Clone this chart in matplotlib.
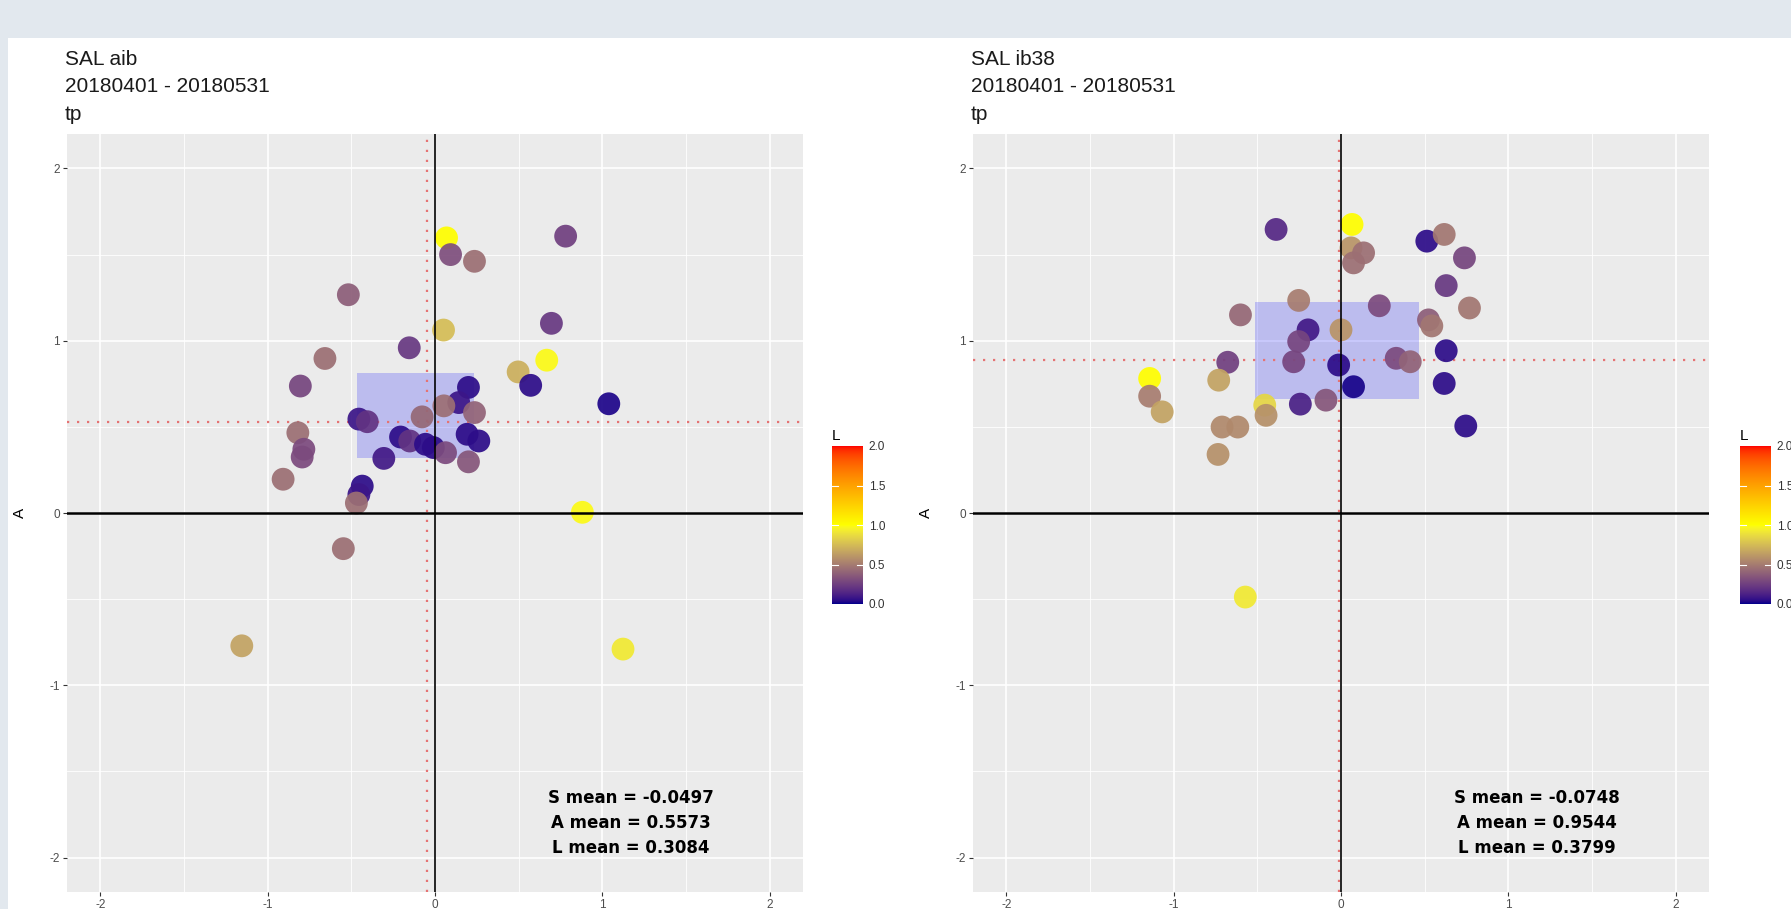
import numpy as np
import matplotlib
matplotlib.use("Agg")
import matplotlib.pyplot as plt
import matplotlib.colors as mcolors
from matplotlib.patches import Rectangle

plt.rcParams['font.family'] = ['Liberation Sans', 'DejaVu Sans']
plt.rcParams['axes.unicode_minus'] = False

# ---- data ----
# left panel: SAL aib
left_s = [0.069, 0.093, 0.236, 0.781, -0.518, 0.051, 0.696, -0.154, -0.658, 0.497,
          0.668, 0.572, 1.039, -0.805, 0.200, 0.142, 0.053, 0.236, -0.077, -0.455,
          -0.405, -0.820, -0.784, -0.794, -0.908, -0.206, -0.151, -0.057, -0.010, 0.063,
          0.192, 0.262, 0.200, -0.306, -0.435, -0.455, -0.470, -0.548, 0.881, -1.155, 1.124]
left_a = [1.597, 1.500, 1.461, 1.607, 1.267, 1.062, 1.101, 0.959, 0.897, 0.819,
          0.887, 0.741, 0.634, 0.737, 0.729, 0.641, 0.622, 0.583, 0.558, 0.545,
          0.530, 0.466, 0.370, 0.325, 0.196, 0.441, 0.418, 0.399, 0.380, 0.350,
          0.457, 0.418, 0.297, 0.317, 0.156, 0.107, 0.058, -0.207, 0.004, -0.771, -0.790]
left_l = [1.00, 0.32, 0.45, 0.25, 0.38, 0.75, 0.22, 0.22, 0.45, 0.70,
          0.98, 0.05, 0.03, 0.28, 0.05, 0.08, 0.45, 0.40, 0.42, 0.08,
          0.20, 0.45, 0.30, 0.30, 0.45, 0.05, 0.20, 0.05, 0.05, 0.30,
          0.05, 0.05, 0.35, 0.10, 0.05, 0.08, 0.45, 0.45, 0.98, 0.65, 0.92]

# right panel: SAL ib38
right_s = [0.066, -0.388, 0.513, 0.617, 0.738, 0.060, 0.135, 0.075, 0.629, 0.768,
           -0.253, -0.601, 0.229, 0.523, 0.543, 0.000, -0.197, -0.253, -0.283, -0.677,
           -0.014, 0.330, 0.414, 0.629, 0.617, 0.075, -0.243, -0.090, 0.746, -1.144,
           -1.144, -1.069, -0.731, -0.711, -0.617, -0.456, -0.448, -0.735, -0.572]
right_a = [1.675, 1.646, 1.578, 1.617, 1.481, 1.539, 1.510, 1.452, 1.320, 1.190,
           1.234, 1.150, 1.203, 1.121, 1.086, 1.063, 1.063, 0.995, 0.878, 0.875,
           0.859, 0.898, 0.878, 0.942, 0.752, 0.733, 0.632, 0.655, 0.505, 0.781,
           0.678, 0.587, 0.771, 0.499, 0.499, 0.626, 0.567, 0.340, -0.488]
right_l = [1.00, 0.15, 0.05, 0.48, 0.28, 0.60, 0.45, 0.45, 0.22, 0.48,
           0.50, 0.42, 0.30, 0.38, 0.48, 0.60, 0.10, 0.28, 0.28, 0.25,
           0.05, 0.30, 0.40, 0.05, 0.05, 0.02, 0.12, 0.35, 0.05, 1.00,
           0.50, 0.65, 0.65, 0.55, 0.55, 0.85, 0.58, 0.58, 0.92]

# quartile boxes (s_lo, s_hi, a_lo, a_hi) and dotted reference lines
left_box = (-0.465, 0.235, 0.320, 0.815)
right_box = (-0.512, 0.469, 0.661, 1.222)
left_vline, left_hline = -0.047, 0.531
right_vline, right_hline = -0.010, 0.888

left_title = ['SAL aib', '20180401 - 20180531', 'tp']
right_title = ['SAL ib38', '20180401 - 20180531', 'tp']
left_means = ['S mean = -0.0497', 'A mean = 0.5573', 'L mean = 0.3084']
right_means = ['S mean = -0.0748', 'A mean = 0.9544', 'L mean = 0.3799']

W, H = 1791, 909


def to_lab(c):
    rgb = np.array(mcolors.to_rgb(c))
    lin = np.where(rgb <= 0.04045, rgb / 12.92, ((rgb + 0.055) / 1.055) ** 2.4)
    m = np.array([[0.4124, 0.3576, 0.1805], [0.2126, 0.7152, 0.0722], [0.0193, 0.1192, 0.9505]])
    xyz = m @ lin / np.array([0.95047, 1.0, 1.08883])
    f = np.where(xyz > 0.008856, np.cbrt(xyz), 7.787 * xyz + 16 / 116)
    return np.array([116 * f[1] - 16, 500 * (f[0] - f[1]), 200 * (f[1] - f[2])])


def from_lab(lab):
    fy = (lab[0] + 16) / 116
    f = np.array([fy + lab[1] / 500, fy, fy - lab[2] / 200])
    xyz = np.where(f ** 3 > 0.008856, f ** 3, (f - 16 / 116) / 7.787) * np.array([0.95047, 1.0, 1.08883])
    m = np.array([[3.2406, -1.5372, -0.4986], [-0.9689, 1.8758, 0.0415], [0.0557, -0.2040, 1.0570]])
    lin = np.clip(m @ xyz, 0, 1)
    rgb = np.where(lin <= 0.0031308, 12.92 * lin, 1.055 * lin ** (1 / 2.4) - 0.055)
    return np.clip(rgb, 0, 1)


def lab_cmap(stops, n=256):
    # colour ramp interpolated in CIELAB, like ggplot's gradientn
    labs = [to_lab(c) for c in stops]
    cols = []
    for t in np.linspace(0, 1, n):
        pos = t * (len(labs) - 1)
        i = min(int(pos), len(labs) - 2)
        u = pos - i
        cols.append(from_lab(labs[i] * (1 - u) + labs[i + 1] * u))
    return mcolors.ListedColormap(cols)


cmap = lab_cmap(['#00008B', '#FFFF00', '#FF0000'])
norm = mcolors.Normalize(0, 2)


def draw_panel(fig, left_px, s, a, l, box, vline, hline, title, means):
    ax = fig.add_axes([left_px / W, 17 / H, 736 / W, 758 / H])
    ax.set_facecolor('#EBEBEB')
    for sp in ax.spines.values():
        sp.set_visible(False)
    ax.set_xlim(-2.2, 2.2)
    ax.set_ylim(-2.2, 2.2)
    ax.set_xticks([-2, -1, 0, 1, 2])
    ax.set_yticks([-2, -1, 0, 1, 2])
    ax.set_xticks([-1.5, -0.5, 0.5, 1.5], minor=True)
    ax.set_yticks([-1.5, -0.5, 0.5, 1.5], minor=True)
    ax.grid(which='major', color='white', lw=1.2)
    ax.grid(which='minor', color='white', lw=0.6)
    ax.set_axisbelow(True)
    ax.tick_params(which='major', length=3, width=0.8, color='#333333',
                   labelcolor='#4D4D4D', labelsize=8.5, pad=2)
    ax.tick_params(which='minor', length=0)

    # box and reference lines
    ax.add_patch(Rectangle((box[0], box[2]), box[1] - box[0], box[3] - box[2],
                           facecolor='blue', alpha=0.2, lw=0, zorder=1))
    ax.axvline(vline, color='#E57373', lw=1.6, ls=(0, (1, 3.5)), zorder=1.5)
    ax.axhline(hline, color='#E57373', lw=1.6, ls=(0, (1, 3.5)), zorder=1.5)

    ax.scatter(s, a, c=l, cmap=cmap, norm=norm, s=270, lw=0, alpha=0.93, zorder=2)

    ax.axhline(0, color='black', lw=1.8, zorder=3)
    ax.axvline(0, color='black', lw=1.2, zorder=3)

    for i, txt in enumerate(means):
        ax.text(1.17, -1.655 - 0.145 * i, txt, ha='center', va='center',
                fontsize=12, fontweight='bold', family='DejaVu Sans', zorder=4)

    ax.set_ylabel('A', fontsize=11, color='black')
    ax.yaxis.set_label_coords(-0.054, 0.5)

    for i, txt in enumerate(title):
        fig.text((left_px - 2) / W, 1 - (65 + 27.5 * i) / H, txt,
                 fontsize=15, va='baseline', ha='left', color='#1A1A1A')
    return ax


def draw_legend(fig, left_px):
    cax = fig.add_axes([left_px / W, (H - 604) / H, 31 / W, 158 / H])
    grad = np.linspace(0, 2, 256).reshape(-1, 1)
    cax.imshow(grad, cmap=cmap, norm=norm, aspect='auto', origin='lower',
               extent=[0, 1, 0, 2])
    for sp in cax.spines.values():
        sp.set_visible(False)
    cax.set_xticks([])
    cax.yaxis.tick_right()
    cax.set_yticks([0, 0.5, 1, 1.5, 2])
    cax.set_yticklabels(['0.0', '0.5', '1.0', '1.5', '2.0'])
    cax.tick_params(axis='y', length=0, labelsize=8.5, labelcolor='#333333', pad=4)
    for v in [0.5, 1, 1.5]:
        cax.plot([0, 0.2], [v, v], color='white', lw=0.8)
        cax.plot([0.8, 1], [v, v], color='white', lw=0.8)
    cax.set_xlim(0, 1)
    cax.set_ylim(0, 2)
    fig.text(left_px / W, 1 - 440 / H, 'L', fontsize=11, va='baseline', ha='left')


fig = plt.figure(figsize=(W / 100, H / 100), dpi=100, facecolor='#E2E8EE')
# white page area below the blurred browser band
fig.add_artist(Rectangle((8 / W, 0), 1, (H - 38) / H, transform=fig.transFigure,
                         facecolor='white', lw=0, zorder=0))

draw_panel(fig, 67, left_s, left_a, left_l, left_box, left_vline, left_hline,
           left_title, left_means)
draw_panel(fig, 973, right_s, right_a, right_l, right_box, right_vline, right_hline,
           right_title, right_means)
draw_legend(fig, 832)
draw_legend(fig, 1740)

fig.savefig('out.png', dpi=100, facecolor=fig.get_facecolor())
